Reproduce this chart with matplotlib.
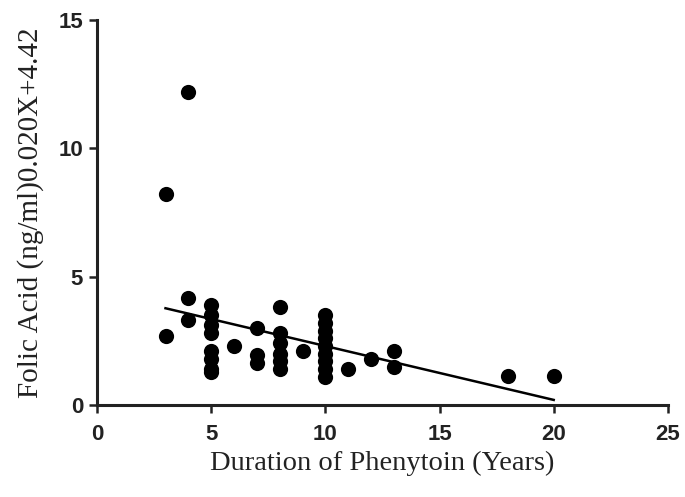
import matplotlib
matplotlib.use("Agg")
import matplotlib.pyplot as plt
import numpy as np

years = [3, 3, 4, 4, 4,
         5, 5, 5, 5, 5, 5, 5, 5,
         6, 7, 7, 7,
         8, 8, 8, 8, 8, 8,
         9,
         10, 10, 10, 10, 10, 10, 10, 10, 10,
         11, 12, 13, 13, 18, 20]
folic = [8.2, 2.7, 12.2, 4.15, 3.3,
         3.9, 3.5, 3.1, 2.8, 2.1, 1.8, 1.4, 1.3,
         2.3, 3.0, 1.95, 1.65,
         3.8, 2.8, 2.4, 2.0, 1.7, 1.4,
         2.1,
         3.5, 3.2, 2.9, 2.6, 2.3, 2.0, 1.7, 1.4, 1.1,
         1.4, 1.8, 2.1, 1.5, 1.15, 1.15]

fit_slope = -0.21
fit_intercept = 4.40
fit_range = [3, 20]

xticks = [0, 5, 10, 15, 20, 25]
yticks = [0, 5, 10, 15]

fig = plt.figure(figsize=(6.85, 4.97), dpi=100)
ax = fig.add_axes([0.1416, 0.185, 0.8334, 0.775])

ax.scatter(years, folic, s=120, color="black", zorder=3, linewidths=0)
fx = np.array(fit_range, dtype=float)
ax.plot(fx, fit_slope * fx + fit_intercept, color="black", lw=1.8, zorder=2)

ax.set_xlim(0, 25)
ax.set_ylim(0, 15)
ax.set_xticks(xticks)
ax.set_yticks(yticks)
for s in ["top", "right"]:
    ax.spines[s].set_visible(False)
for s in ["left", "bottom"]:
    ax.spines[s].set_linewidth(2.2)
    ax.spines[s].set_color("#222222")
ax.tick_params(direction="out", length=6, width=1.8, colors="#222222",
               labelsize=16)
ax.tick_params(axis="x", pad=8)
ax.tick_params(axis="y", pad=4)
for lab in ax.get_xticklabels() + ax.get_yticklabels():
    lab.set_family("Liberation Sans")
    lab.set_color("#222222")
    lab.set_fontweight("bold")

ax.set_xlabel("Duration of Phenytoin (Years)", family="Liberation Serif",
              fontsize=20.5, color="#222222", labelpad=4)
ax.set_ylabel("Folic Acid (ng/ml)0.020X+4.42", family="Liberation Serif",
              fontsize=21, color="#222222", labelpad=10)

fig.savefig("out.png", dpi=100)
